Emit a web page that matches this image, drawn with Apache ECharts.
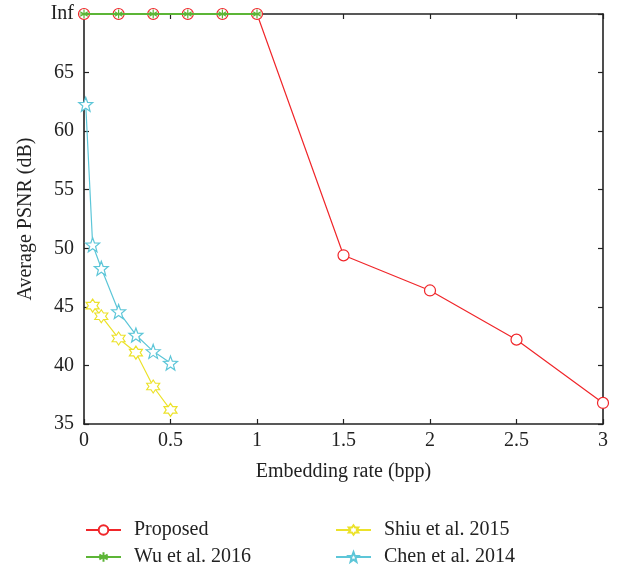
<!DOCTYPE html>
<html>
<head>
<meta charset="utf-8">
<script src="https://cdn.jsdelivr.net/npm/echarts@6/dist/echarts.min.js"></script>
<style>
html, body { margin: 0; padding: 0; background: #fff; }
#chart { width: 621px; height: 569px; }
</style>
</head>
<body>
<div id="chart"></div>
<script>
// data; Inf is drawn at the top of the axis (70)
const INF = 70
const proposedX = [0, 0.2, 0.4, 0.6, 0.8, 1, 1.5, 2, 2.5, 3]
const proposedY = [INF, INF, INF, INF, INF, INF, 49.4, 46.4, 42.2, 36.8]
const wuX = [0, 0.2, 0.4, 0.6, 0.8, 1]
const wuY = [INF, INF, INF, INF, INF, INF]
const shiuX = [0.05, 0.1, 0.2, 0.3, 0.4, 0.5]
const shiuY = [45.1, 44.2, 42.3, 41.1, 38.2, 36.2]
const chenX = [0.01, 0.05, 0.1, 0.2, 0.3, 0.4, 0.5]
const chenY = [62.3, 50.3, 48.3, 44.6, 42.6, 41.2, 40.2]
const yTicks = [35, 40, 45, 50, 55, 60, 65, 'Inf']

const FONT = 'Liberation Serif'

// star outline as an svg path
function starPath(n, inner) {
    let pts = []
    for (let i = 0; i < n * 2; i++) {
        let r = i % 2 === 0 ? 1 : inner
        let a = Math.PI * i / n - Math.PI / 2
        pts.push((r * Math.cos(a)).toFixed(3) + ',' + (r * Math.sin(a)).toFixed(3))
    }
    return 'path://M' + pts.join('L') + 'Z'
}
const pentagram = starPath(5, 0.42)
const hexagram = starPath(6, 0.577)
const asterisk = 'path://M0,-1L0,1M-0.87,-0.5L0.87,0.5M-0.87,0.5L0.87,-0.5M-1,0L1,0'

function pairs(xs, ys) {
    return xs.map((x, i) => [x, ys[i]])
}

function series(name, xs, ys, color, symbol, size, fill, width) {
    return {
        name: name,
        type: 'line',
        data: pairs(xs, ys),
        symbol: symbol,
        symbolSize: size,
        showAllSymbol: true,
        lineStyle: { color: color, width: width || 1.2 },
        itemStyle: { color: fill, borderColor: color, borderWidth: 1.2 },
        emphasis: { disabled: true },
        z: 3
    }
}

const myChart = echarts.init(document.getElementById('chart'))

const axisCommon = {
    min: 0, max: 3, interval: 0.5,
    axisLine: { show: true, onZero: false, lineStyle: { color: '#222', width: 1.6 } },
    axisTick: { show: true, inside: true, length: 5, lineStyle: { color: '#222', width: 1.2 } },
    splitLine: { show: false }
}
const yCommon = {
    min: 35, max: 70, interval: 5,
    axisLine: { show: true, onZero: false, lineStyle: { color: '#222', width: 1.6 } },
    axisTick: { show: true, inside: true, length: 5, lineStyle: { color: '#222', width: 1.2 } },
    splitLine: { show: false }
}

function legendItem(name, left, top) {
    return {
        left: left,
        top: top,
        data: [name],
        itemWidth: 35,
        itemHeight: 12,
        textStyle: { fontFamily: FONT, fontSize: 20, color: '#222', padding: [0, 0, 0, 8] },
        selectedMode: false
    }
}

const options = {
    animation: false,
    backgroundColor: '#fff',
    grid: { left: 84, right: 18, top: 14, bottom: 145 },
    xAxis: [
        Object.assign({}, axisCommon, {
            type: 'value',
            position: 'bottom',
            name: 'Embedding rate (bpp)',
            nameLocation: 'middle',
            nameGap: 38,
            nameTextStyle: { fontFamily: FONT, fontSize: 20, color: '#222' },
            axisLabel: { fontFamily: FONT, fontSize: 20, color: '#222', margin: 7 }
        }),
        Object.assign({}, axisCommon, {
            type: 'value',
            position: 'top',
            axisLabel: { show: false }
        })
    ],
    yAxis: [
        Object.assign({}, yCommon, {
            type: 'value',
            position: 'left',
            name: 'Average PSNR (dB)',
            nameLocation: 'middle',
            nameGap: 48,
            nameTextStyle: { fontFamily: FONT, fontSize: 20, color: '#222' },
            axisLabel: {
                fontFamily: FONT, fontSize: 20, color: '#222', margin: 10,
                formatter: v => String(yTicks[Math.round((v - 35) / 5)])
            }
        }),
        Object.assign({}, yCommon, {
            type: 'value',
            position: 'right',
            axisLabel: { show: false }
        })
    ],
    legend: [
        legendItem('Proposed', 80, 515),
        legendItem('Wu et al. 2016', 80, 542),
        legendItem('Shiu et al. 2015', 330, 515),
        legendItem('Chen et al. 2014', 330, 542)
    ],
    series: [
        series('Proposed', proposedX, proposedY, '#f0262a', 'circle', 11, '#fff'),
        series('Wu et al. 2016', wuX, wuY, '#5cb536', asterisk, 9, 'none', 1.8),
        series('Shiu et al. 2015', shiuX, shiuY, '#ece22a', hexagram, 13, '#fff'),
        series('Chen et al. 2014', chenX, chenY, '#5dc6d8', pentagram, 14, '#fff')
    ]
}
// green line lies over the red one at the top
options.series[1].z = 4
myChart.setOption(options)
</script>
</body>
</html>
